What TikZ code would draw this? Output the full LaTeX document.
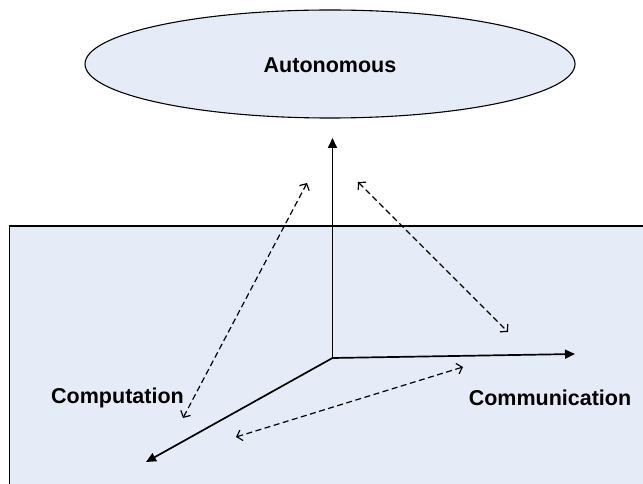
\documentclass[tikz,border=0pt]{standalone}
\usepackage{fontspec}
\setmainfont{Liberation Sans}
\usetikzlibrary{arrows.meta,shapes.geometric}
\definecolor{planefill}{RGB}{230,236,247}
\tikzset{
  axis/.style={line width=1.7pt,-{Triangle[length=10pt,width=9pt]}},
  relation/.style={line width=1.2pt,dash pattern=on 6pt off 3.5pt,
    {Straight Barb[length=5pt,width=11pt]}-{Straight Barb[length=5pt,width=11pt]}},
  caption/.style={font=\fontsize{21.5}{24}\selectfont\bfseries,inner sep=0pt}
}
\begin{document}
\begin{tikzpicture}[x=1pt,y=-1pt]
  \useasboundingbox (0,0) rectangle (643,484);
  \begin{scope}
    \clip (0,0) rectangle (643,484);
    % the plane spanned by the two horizontal axes
    \draw[line width=1.4pt,fill=planefill] (9.5,226) rectangle (660,500);
  \end{scope}
  % top goal
  \node[ellipse,draw,line width=1.1pt,fill=planefill,minimum width=490pt,
        minimum height=108pt,inner sep=0pt] (auto) at (330,64) {};
  \node[caption] (autotext) at (330,65) {Autonomous};
  % axes
  \coordinate (o) at (332.5,358);
  \coordinate (up) at (332.5,138);
  \coordinate (right) at (575,354);
  \coordinate (down) at (146,462);
  \draw[axis] (o) -- (up);
  \draw[axis] (o) -- (right);
  \draw[axis] (o) -- (down);
  % axis labels
  \node[caption] (comp) at (117.5,398) {Computation};
  \node[caption] (comm) at (550,398) {Communication};
  % trade-off arrows
  \coordinate (a1) at (307,183);
  \coordinate (a2) at (183,418);
  \coordinate (b1) at (358,182);
  \coordinate (b2) at (508,332);
  \coordinate (c1) at (236,437);
  \coordinate (c2) at (463,367);
  \draw[relation] (a1) -- (a2);
  \draw[relation] (b1) -- (b2);
  \draw[relation] (c1) -- (c2);
\end{tikzpicture}
\end{document}
